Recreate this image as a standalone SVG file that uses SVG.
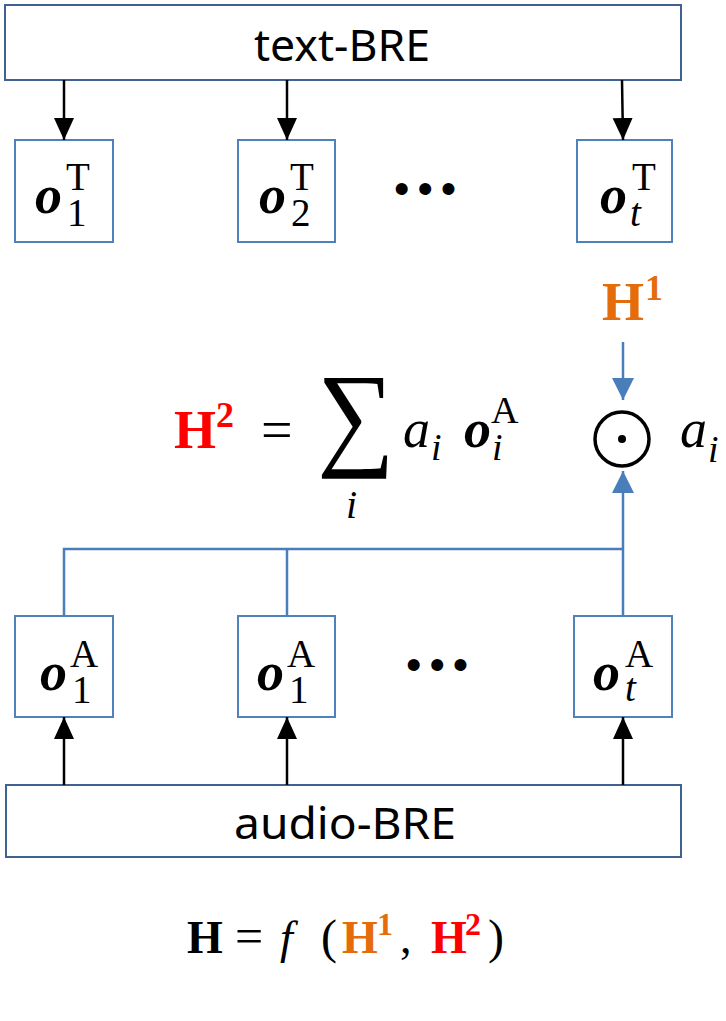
<svg xmlns="http://www.w3.org/2000/svg" width="726" height="1021" viewBox="0 0 726 1021">
<style>
.big{fill:#fff;stroke:#3F6293;stroke-width:2}
.sm{fill:#fff;stroke:#4F81BD;stroke-width:2}
.lbl{font-family:"Noto Sans","Open Sans",sans-serif;font-size:44px;fill:#000}
.m{font-family:"Liberation Serif","DejaVu Serif",serif;fill:#000}
.bi{font-weight:bold;font-style:italic;font-size:54px}
.it{font-style:italic}
.bd{font-weight:bold}
.sc{font-size:39px}
.blk{stroke:#000;stroke-width:2.5;fill:none}
.blu{stroke:#4A7EBB;stroke-width:2.5;fill:none}
.dots{font-family:"Liberation Sans",Arial,sans-serif;font-size:44px;letter-spacing:8px}
.or{fill:#E46C0A}
.rd{fill:#FF0000}
</style>
<defs>
<marker id="ab" viewBox="0 0 22 22" refX="22" refY="11" markerWidth="22" markerHeight="22" markerUnits="userSpaceOnUse" orient="auto"><path d="M0,1 L22,11 L0,21 z" fill="#000"/></marker>
<marker id="au" viewBox="0 0 22 22" refX="22" refY="11" markerWidth="22" markerHeight="22" markerUnits="userSpaceOnUse" orient="auto"><path d="M0,0 L22,11 L0,22 z" fill="#4A7EBB"/></marker>
</defs>

<g id="text-bre"><rect class="big" x="5" y="5" width="676" height="75"/><text class="lbl" x="254" y="61" textLength="176" lengthAdjust="spacingAndGlyphs">text-BRE</text></g>

<g id="oT1"><rect class="sm" x="15" y="140" width="98" height="102"/>
<text class="m bi" x="35" y="213">o</text><text class="m sc" x="66" y="190">T</text><text class="m sc" x="67" y="226">1</text></g>
<g id="oT2"><rect class="sm" x="238" y="140" width="97" height="102"/>
<text class="m bi" x="259" y="213">o</text><text class="m sc" x="290" y="190">T</text><text class="m sc" x="291" y="226">2</text></g>
<g id="dotsT"><text class="dots" x="394" y="204">•••</text></g>
<g id="oTt"><rect class="sm" x="577" y="140" width="95" height="102"/>
<text class="m bi" x="600" y="213">o</text><text class="m sc" x="632" y="190">T</text><text class="m sc it" x="630" y="226">t</text></g>

<g id="H1"><text class="m bd or" x="602" y="320" font-size="54">H</text><text class="m bd or" x="645" y="300" font-size="36">1</text></g>

<g id="H2-formula">
<text class="m bd rd" x="174" y="448" font-size="54">H</text><text class="m bd rd" x="216" y="427" font-size="36">2</text>
<text class="m" x="261" y="449" font-size="56">=</text>
<text class="m" x="0" y="454" font-size="116" transform="translate(317,0) scale(0.94,1)">∑</text>
<text class="m it" x="346" y="518" font-size="40">i</text>
<text class="m it" x="403" y="447" font-size="54">a</text><text class="m it" x="431" y="460" font-size="38">i</text>
<text class="m bi" x="464" y="447">o</text><text class="m" x="491" y="423" font-size="38">A</text><text class="m it" x="492" y="460" font-size="38">i</text>
</g>

<g id="odot"><circle cx="622" cy="439" r="27" fill="none" stroke="#000" stroke-width="3.5"/><circle cx="622" cy="439" r="4" fill="#000"/></g>
<g id="ai"><text class="m it" x="680" y="447" font-size="54">a</text><text class="m it" x="708" y="462" font-size="38">i</text></g>

<g id="oA1"><rect class="sm" x="15" y="616" width="98" height="101"/>
<text class="m bi" x="40" y="690">o</text><text class="m sc" x="70" y="667">A</text><text class="m sc" x="72" y="703">1</text></g>
<g id="oA2"><rect class="sm" x="238" y="616" width="97" height="101"/>
<text class="m bi" x="257" y="690">o</text><text class="m sc" x="287" y="667">A</text><text class="m sc" x="289" y="703">1</text></g>
<g id="dotsA"><text class="dots" x="406" y="680">•••</text></g>
<g id="oAt"><rect class="sm" x="574" y="616" width="98" height="101"/>
<text class="m bi" x="593" y="690">o</text><text class="m sc" x="625" y="667">A</text><text class="m sc it" x="625" y="701">t</text></g>

<g id="audio-bre"><rect class="big" x="6" y="785" width="675" height="72"/><text class="lbl" x="234" y="839" textLength="222" lengthAdjust="spacingAndGlyphs">audio-BRE</text></g>

<g id="H-formula">
<text class="m bd" x="187" y="953" font-size="46">H</text>
<text class="m" x="235" y="953" font-size="50">=</text>
<text class="m it" x="280" y="953" font-size="46">f</text>
<text class="m" x="321" y="953" font-size="48">(</text>
<text class="m bd or" x="342" y="953" font-size="46">H</text><text class="m bd or" x="377" y="935" font-size="32">1</text>
<text class="m" x="400" y="953" font-size="46">,</text>
<text class="m bd rd" x="431" y="953" font-size="46">H</text><text class="m bd rd" x="465" y="935" font-size="32">2</text>
<text class="m" x="488" y="953" font-size="48">)</text>
</g>

<g id="connectors">
<line class="blk" x1="64" y1="80" x2="64" y2="140" marker-end="url(#ab)"/>
<line class="blk" x1="287" y1="80" x2="287" y2="140" marker-end="url(#ab)"/>
<line class="blk" x1="622" y1="80" x2="623" y2="140" marker-end="url(#ab)"/>
<line class="blk" x1="64" y1="785" x2="64" y2="717" marker-end="url(#ab)"/>
<line class="blk" x1="287" y1="785" x2="287" y2="717" marker-end="url(#ab)"/>
<line class="blk" x1="623" y1="785" x2="623" y2="717" marker-end="url(#ab)"/>
<line class="blu" x1="623" y1="342" x2="623" y2="400" marker-end="url(#au)"/>
<polyline class="blu" points="64,616 64,549 623,549"/>
<line class="blu" x1="287" y1="549" x2="287" y2="616"/>
<line class="blu" x1="623" y1="616" x2="623" y2="471" marker-end="url(#au)"/>
</g>
</svg>
